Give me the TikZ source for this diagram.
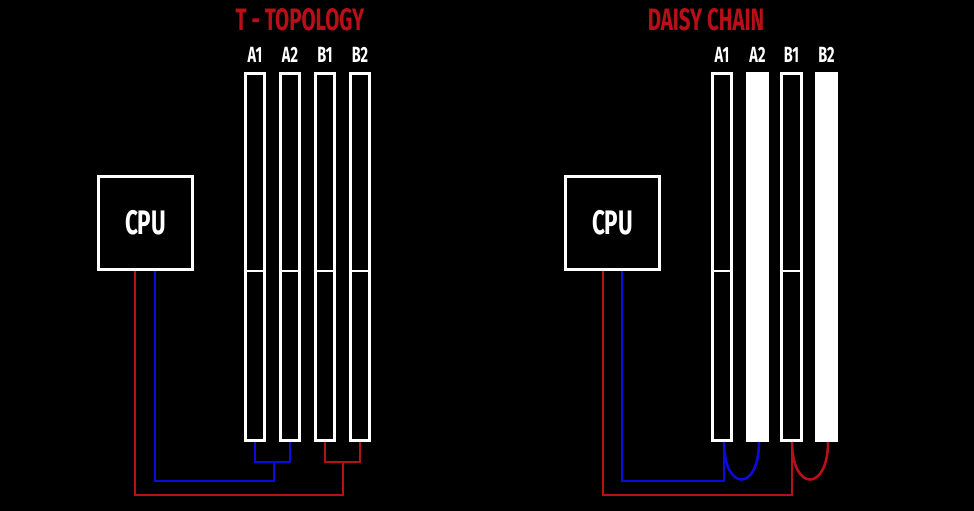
\documentclass[tikz,border=0pt]{standalone}
\usepackage{fontspec}
\setmainfont{Fira Sans}[FakeStretch=0.66]
\begin{document}
\begin{tikzpicture}[x=1pt,y=-1pt,
  slotbox/.style={draw=white,line width=3.2pt,minimum width=19.5pt,minimum height=367pt,inner sep=0pt,anchor=north},
  slotfill/.style={slotbox,fill=white},
  cpubox/.style={draw=white,line width=3.2pt,minimum width=94pt,minimum height=93pt,text=white,font=\fontsize{34}{34}\selectfont\bfseries},
  lbl/.style={text=white,font=\fontsize{22}{22}\selectfont\bfseries,inner sep=0pt},
  ttl/.style={text=titlered,font=\fontsize{31}{31}\selectfont\bfseries,inner sep=0pt},
  bw/.style={draw=wireblue,line width=2.6pt},
  rw/.style={draw=wirered,line width=2.6pt}]
\definecolor{titlered}{RGB}{185,15,25}
\definecolor{wirered}{RGB}{180,18,22}
\definecolor{wireblue}{RGB}{10,10,225}
\fill[black] (0,0) rectangle (974,511);
\useasboundingbox (0,0) rectangle (974,511);

% ---------- T topology ----------
\node[ttl] (t1) at (300,20) {T - TOPOLOGY};
\node[cpubox] (cpu1) at (145.5,223) {CPU};
\foreach \n/\x in {a1/255,a2/290,b1/325,b2/360}{
  \node[slotbox] (\n) at (\x,72) {};
  \draw[white,line width=1.2pt] (\n.west |- 0,271) -- (\n.east |- 0,271);
}
\node[lbl] at (255,55) {A1};
\node[lbl] at (290,55) {A2};
\node[lbl] at (325,55) {B1};
\node[lbl] at (360,55) {B2};
\coordinate (bj) at (274,462);
\coordinate (rj) at (343,462);
\draw[bw] (a1.south |- 0,442) |- (bj) -| (a2.south |- 0,442);
\draw[bw] (cpu1.south -| 155,0) |- (274,481) -- (bj);
\draw[rw] (b1.south |- 0,442) |- (rj) -| (b2.south |- 0,442);
\draw[rw] (cpu1.south -| 135,0) |- (343,495) -- (rj);

% ---------- Daisy chain ----------
\node[ttl] (t2) at (706,20) {DAISY CHAIN};
\node[cpubox] (cpu2) at (612.5,223) {CPU};
\node[slotbox] (da1) at (722,72) {};
\node[slotfill] (da2) at (757.5,72) {};
\node[slotbox] (db1) at (791.5,72) {};
\node[slotfill] (db2) at (826.5,72) {};
\foreach \n in {da1,db1}{
  \draw[white,line width=1.2pt] (\n.west |- 0,271) -- (\n.east |- 0,271);
}
\node[lbl] at (722,55) {A1};
\node[lbl] at (757.5,55) {A2};
\node[lbl] at (791.5,55) {B1};
\node[lbl] at (826.5,55) {B2};
\coordinate (dbs) at (724,442);
\coordinate (drs) at (792,442);
\draw[bw] (cpu2.south -| 622,0) |- (724,481) -- (dbs);
\draw[bw] (dbs) .. controls (724,492) and (759,492) .. (759,442);
\draw[rw] (cpu2.south -| 603,0) |- (792,495) -- (drs);
\draw[rw] (drs) .. controls (792,492) and (828,492) .. (828,442);
\end{tikzpicture}
\end{document}
